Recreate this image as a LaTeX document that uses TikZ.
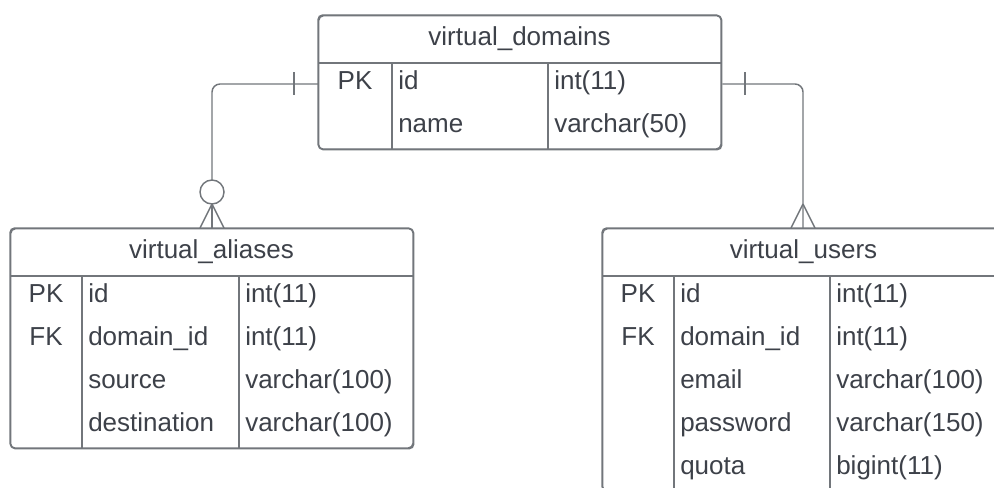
\documentclass[tikz,border=0pt]{standalone}
\usepackage{fontspec}
\setmainfont{Liberation Sans}
\definecolor{edge}{HTML}{72767B}
\definecolor{ink}{HTML}{3D4149}
\begin{document}
\begin{tikzpicture}[x=0.75pt,y=-0.75pt,
  box/.style={draw=edge, line width=1.1pt, rounded corners=3.5pt, fill=white, inner sep=0pt, anchor=north west, minimum width=302.25pt},
  grid/.style={draw=edge, line width=1.1pt},
  conn/.style={draw=edge, line width=1.1pt},
  lbl/.style={text=ink, font=\fontsize{19.5}{22}\selectfont, inner sep=0pt},
  hdr/.style={lbl, anchor=base, yshift=-4.9pt},
  key/.style={lbl, anchor=base, yshift=-4.1pt},
  fld/.style={lbl, anchor=base west, yshift=-4.1pt}
]
\useasboundingbox (0,0) rectangle (994,488);
\clip (0,0) rectangle (994,488);

% tables
\node[box, minimum height=100.5pt] (dom) at (318,15) {};
\node[box, minimum height=165pt] (ali) at (10,228) {};
\node[box, minimum height=197.25pt] (usr) at (602,228) {};

% connectors
\draw[conn, rounded corners=6pt] (dom.west |- 0,84) -| (212,180);
\draw[conn] (212,192) circle[radius=9pt];
\draw[conn] (212,204) -- (ali.north -| 212,0);
\draw[conn] (212,204) -- (200,228) (212,204) -- (224,228);
\draw[conn] (294,72.5) -- (294,95.5);

\draw[conn, rounded corners=6pt] (dom.east |- 0,84) -| (usr.north -| 803,0);
\draw[conn] (803,204) -- (791,228) (803,204) -- (815,228);
\draw[conn] (745,72.5) -- (745,95.5);

% box outlines over connector ends
\draw[grid, rounded corners=3.5pt] (318,15) rectangle (721,149);
\draw[grid, rounded corners=3.5pt] (10,228) rectangle (413,448);
\draw[grid, rounded corners=3.5pt] (602,228) rectangle (1005,491);

% virtual_domains
\draw[grid] (318,63) -- (721,63);
\draw[grid] (392,63) -- (392,149);
\draw[grid] (548,63) -- (548,149);
\node[hdr] (dom-h) at (519.5,39) {virtual\_domains};
\node[key] (dom-k1) at (355,84.5) {PK};
\node[fld] (dom-f1) at (398,84.5) {id};
\node[fld] (dom-t1) at (554,84.5) {int(11)};
\node[fld] (dom-f2) at (398,127.5) {name};
\node[fld] (dom-t2) at (554,127.5) {varchar(50)};

% virtual_aliases
\draw[grid] (10,276) -- (413,276);
\draw[grid] (82,276) -- (82,448);
\draw[grid] (239,276) -- (239,448);
\node[hdr] (ali-h) at (211.5,252) {virtual\_aliases};
\node[key] (ali-k1) at (46,297.5) {PK};
\node[key] (ali-k2) at (46,340.5) {FK};
\node[fld] (ali-f1) at (88,297.5) {id};
\node[fld] (ali-t1) at (245,297.5) {int(11)};
\node[fld] (ali-f2) at (88,340.5) {domain\_id};
\node[fld] (ali-t2) at (245,340.5) {int(11)};
\node[fld] (ali-f3) at (88,383.5) {source};
\node[fld] (ali-t3) at (245,383.5) {varchar(100)};
\node[fld] (ali-f4) at (88,426.5) {destination};
\node[fld] (ali-t4) at (245,426.5) {varchar(100)};

% virtual_users
\draw[grid] (602,276) -- (1005,276);
\draw[grid] (674,276) -- (674,491);
\draw[grid] (830,276) -- (830,491);
\node[hdr] (usr-h) at (803.5,252) {virtual\_users};
\node[key] (usr-k1) at (638,297.5) {PK};
\node[key] (usr-k2) at (638,340.5) {FK};
\node[fld] (usr-f1) at (680,297.5) {id};
\node[fld] (usr-t1) at (836,297.5) {int(11)};
\node[fld] (usr-f2) at (680,340.5) {domain\_id};
\node[fld] (usr-t2) at (836,340.5) {int(11)};
\node[fld] (usr-f3) at (680,383.5) {email};
\node[fld] (usr-t3) at (836,383.5) {varchar(100)};
\node[fld] (usr-f4) at (680,426.5) {password};
\node[fld] (usr-t4) at (836,426.5) {varchar(150)};
\node[fld] (usr-f5) at (680,469.5) {quota};
\node[fld] (usr-t5) at (836,469.5) {bigint(11)};
\end{tikzpicture}
\end{document}
